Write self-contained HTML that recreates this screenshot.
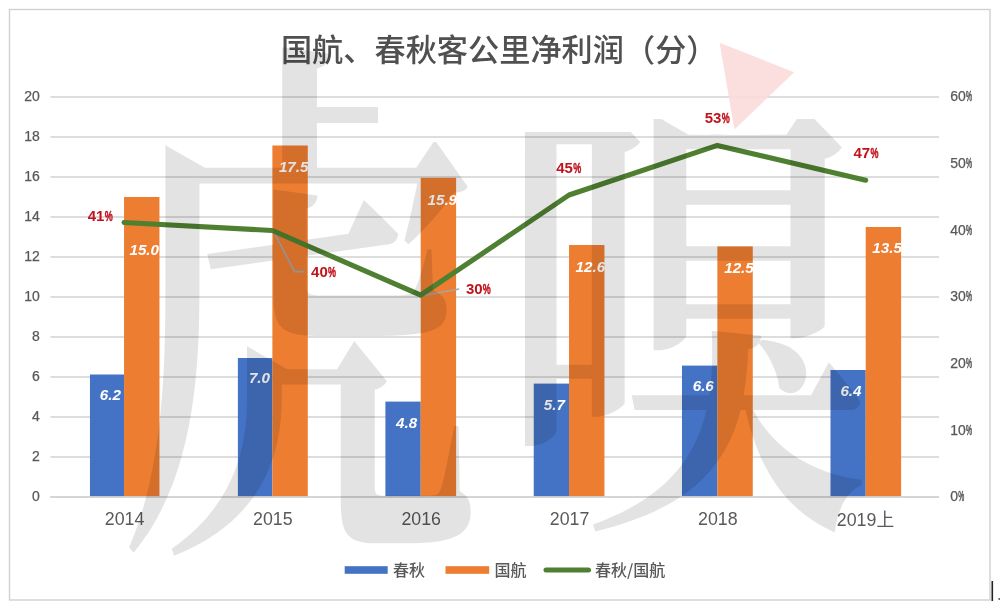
<!DOCTYPE html>
<html lang="zh-CN">
<head>
<meta charset="utf-8">
<title>国航、春秋客公里净利润（分）</title>
<style>
html,body{margin:0;padding:0;background:#fff;}
body{width:1000px;height:609px;overflow:hidden;position:relative;}
svg{display:block;position:absolute;left:0;top:0;}
text{font-family:"Liberation Sans","Noto Sans CJK SC",sans-serif;}
.ax{font-size:14px;fill:#595959;stroke:#595959;stroke-width:0.25px;}
.ax .pp,.ax.pp{stroke-width:0.6px;}
.pc .pp{stroke:#c0141c;stroke-width:0.45px;}
.cat{font-size:17.8px;fill:#595959;}
.ttl{font-size:31.2px;font-weight:500;fill:#505050;font-family:"Noto Sans CJK SC","Liberation Sans",sans-serif;}
.lg{font-size:16px;fill:#595959;font-weight:500;font-family:"Noto Sans CJK SC","Liberation Sans",sans-serif;}
.dl{font-size:15.2px;fill:#fff;font-weight:bold;font-style:italic;}
.pc{font-size:15px;fill:#c0141c;font-weight:bold;}
.wm{font-family:"Noto Serif CJK SC",serif;font-weight:600;fill:#000;fill-opacity:0.11;}
</style>
</head>
<body>
<svg width="1000" height="609" viewBox="0 0 1000 609">
<rect x="0" y="0" width="1000" height="609" fill="#ffffff"/>
<rect x="9.5" y="9.5" width="980.5" height="590.5" fill="#ffffff" stroke="#d0d0d0" stroke-width="1.4"/>

<g stroke="#d2d2d2" stroke-width="1.4">
<line x1="50.4" y1="497.00" x2="939.05" y2="497.00"/>
<line x1="50.4" y1="457.00" x2="939.05" y2="457.00"/>
<line x1="50.4" y1="417.00" x2="939.05" y2="417.00"/>
<line x1="50.4" y1="377.00" x2="939.05" y2="377.00"/>
<line x1="50.4" y1="337.00" x2="939.05" y2="337.00"/>
<line x1="50.4" y1="297.00" x2="939.05" y2="297.00"/>
<line x1="50.4" y1="257.00" x2="939.05" y2="257.00"/>
<line x1="50.4" y1="217.00" x2="939.05" y2="217.00"/>
<line x1="50.4" y1="177.00" x2="939.05" y2="177.00"/>
<line x1="50.4" y1="137.00" x2="939.05" y2="137.00"/>
<line x1="50.4" y1="97.00" x2="939.05" y2="97.00"/>
</g>
<g class="ax" text-anchor="end">
<text x="39.9" y="501.35">0</text>
<text x="39.9" y="461.35">2</text>
<text x="39.9" y="421.35">4</text>
<text x="39.9" y="381.35">6</text>
<text x="39.9" y="341.35">8</text>
<text x="39.9" y="301.35">10</text>
<text x="39.9" y="261.35">12</text>
<text x="39.9" y="221.35">14</text>
<text x="39.9" y="181.35">16</text>
<text x="39.9" y="141.35">18</text>
<text x="39.9" y="101.35">20</text>
</g>
<text class="ax" x="950.20" y="501.35">0<tspan class="pp" dx="0.2" textLength="5.97" lengthAdjust="spacingAndGlyphs">%</tspan></text>
<text class="ax" x="950.20" y="434.68">10<tspan class="pp" dx="0.2" textLength="5.97" lengthAdjust="spacingAndGlyphs">%</tspan></text>
<text class="ax" x="950.20" y="368.02">20<tspan class="pp" dx="0.2" textLength="5.97" lengthAdjust="spacingAndGlyphs">%</tspan></text>
<text class="ax" x="950.20" y="301.35">30<tspan class="pp" dx="0.2" textLength="5.97" lengthAdjust="spacingAndGlyphs">%</tspan></text>
<text class="ax" x="950.20" y="234.68">40<tspan class="pp" dx="0.2" textLength="5.97" lengthAdjust="spacingAndGlyphs">%</tspan></text>
<text class="ax" x="950.20" y="168.02">50<tspan class="pp" dx="0.2" textLength="5.97" lengthAdjust="spacingAndGlyphs">%</tspan></text>
<text class="ax" x="950.20" y="101.35">60<tspan class="pp" dx="0.2" textLength="5.97" lengthAdjust="spacingAndGlyphs">%</tspan></text>
<rect x="89.95" y="374.50" width="34.10" height="121.90" fill="#4472c4"/>
<rect x="124.05" y="197.00" width="35.40" height="299.40" fill="#ed7d31"/>
<rect x="237.88" y="358.00" width="34.50" height="138.40" fill="#4472c4"/>
<rect x="272.38" y="145.50" width="35.40" height="350.90" fill="#ed7d31"/>
<rect x="385.41" y="401.60" width="35.30" height="94.80" fill="#4472c4"/>
<rect x="420.71" y="177.80" width="35.40" height="318.60" fill="#ed7d31"/>
<rect x="533.74" y="383.60" width="35.30" height="112.80" fill="#4472c4"/>
<rect x="569.04" y="245.00" width="35.40" height="251.40" fill="#ed7d31"/>
<rect x="681.97" y="365.60" width="35.40" height="130.80" fill="#4472c4"/>
<rect x="717.37" y="246.40" width="35.40" height="250.00" fill="#ed7d31"/>
<rect x="830.50" y="370.00" width="35.20" height="126.40" fill="#4472c4"/>
<rect x="865.70" y="227.00" width="35.40" height="269.40" fill="#ed7d31"/>
<line x1="50.4" y1="497.0" x2="939.05" y2="497.0" stroke="#d2d2d2" stroke-width="1.4"/>
<g class="dl">
<text x="99.80" y="399.50">6.2</text>
<text x="129.45" y="255.00">15.0</text>
<text x="248.90" y="383.25">7.0</text>
<text x="278.90" y="171.70">17.5</text>
<text x="396.00" y="427.50">4.8</text>
<text x="427.50" y="204.50">15.9</text>
<text x="543.80" y="410.00">5.7</text>
<text x="575.60" y="271.50">12.6</text>
<text x="692.70" y="390.75">6.6</text>
<text x="724.20" y="272.50">12.5</text>
<text x="840.40" y="395.75">6.4</text>
<text x="872.30" y="252.80">13.5</text>
</g>
<g class="cat" text-anchor="middle">
<text x="124.55" y="525">2014</text>
<text x="272.88" y="525">2015</text>
<text x="421.21" y="525">2016</text>
<text x="569.54" y="525">2017</text>
<text x="717.87" y="525">2018</text>
<text x="865.50" y="525.9">2019上</text>
</g>
<g fill="none" stroke="#a6a6a6" stroke-width="1.6">
<polyline points="273.2,230.8 294.6,271.6 304.6,271.6"/>
<polyline points="420.5,296 459.2,289"/>
</g>
<polyline points="124.05,222.50 272.38,230.50 420.71,295.20 569.04,195.00 717.37,145.40 865.70,180.20" fill="none" stroke="#4f7f30" stroke-width="5.1" stroke-linecap="round" stroke-linejoin="round"/>
<text class="pc" x="87.76" y="220.60">41<tspan class="pp" dx="0.2" textLength="8.00" lengthAdjust="spacingAndGlyphs">%</tspan></text>
<text class="pc" x="311.11" y="277.20">40<tspan class="pp" dx="0.2" textLength="8.00" lengthAdjust="spacingAndGlyphs">%</tspan></text>
<text class="pc" x="465.91" y="294.00">30<tspan class="pp" dx="0.2" textLength="8.00" lengthAdjust="spacingAndGlyphs">%</tspan></text>
<text class="pc" x="556.26" y="172.80">45<tspan class="pp" dx="0.2" textLength="8.00" lengthAdjust="spacingAndGlyphs">%</tspan></text>
<text class="pc" x="704.76" y="123.00">53<tspan class="pp" dx="0.2" textLength="8.00" lengthAdjust="spacingAndGlyphs">%</tspan></text>
<text class="pc" x="853.51" y="158.00">47<tspan class="pp" dx="0.2" textLength="8.00" lengthAdjust="spacingAndGlyphs">%</tspan></text>
<text class="ttl" x="280.9" y="60.6">国航、春秋客公里净利润（分）</text>
<rect x="344.7" y="566.2" width="43" height="7.6" fill="#4472c4"/>
<text class="lg" x="393" y="575.5">春秋</text>
<rect x="445.5" y="566.2" width="43.7" height="7.6" fill="#ed7d31"/>
<text class="lg" x="494.5" y="575.5">国航</text>
<line x1="546" y1="570" x2="588.5" y2="570" stroke="#4f7f30" stroke-width="5" stroke-linecap="round"/>
<text class="lg" x="595" y="575.5">春秋/国航</text>
<polygon points="719.6,42.7 794.1,72.3 734.4,129.5" fill="#fbdada" fill-opacity="0.9"/>
<g aria-label="虎嗅">
<clipPath id="ch"><polygon points="100,30 378,30 378,142 476,142 476,609 100,609"/></clipPath>
<g clip-path="url(#ch)">
<text class="wm" font-size="366" transform="translate(116,508.4) scale(1,1.4915)" x="0" y="0">虎</text></g>
<clipPath id="cx"><polygon points="480,132 645,132 645,119 700,119 700,134.5 765,134.5 765,119 900,119 900,609 480,609"/></clipPath>
<g clip-path="url(#cx)">
<text class="wm" font-size="372" transform="translate(498.5,489.4) scale(1,1.345)" x="0" y="0">嗅</text></g></g>
<rect x="991.5" y="581" width="1.6" height="20" fill="#222"/>
<rect x="998.5" y="598" width="1.5" height="2" fill="#666"/>
</svg>
</body>
</html>
